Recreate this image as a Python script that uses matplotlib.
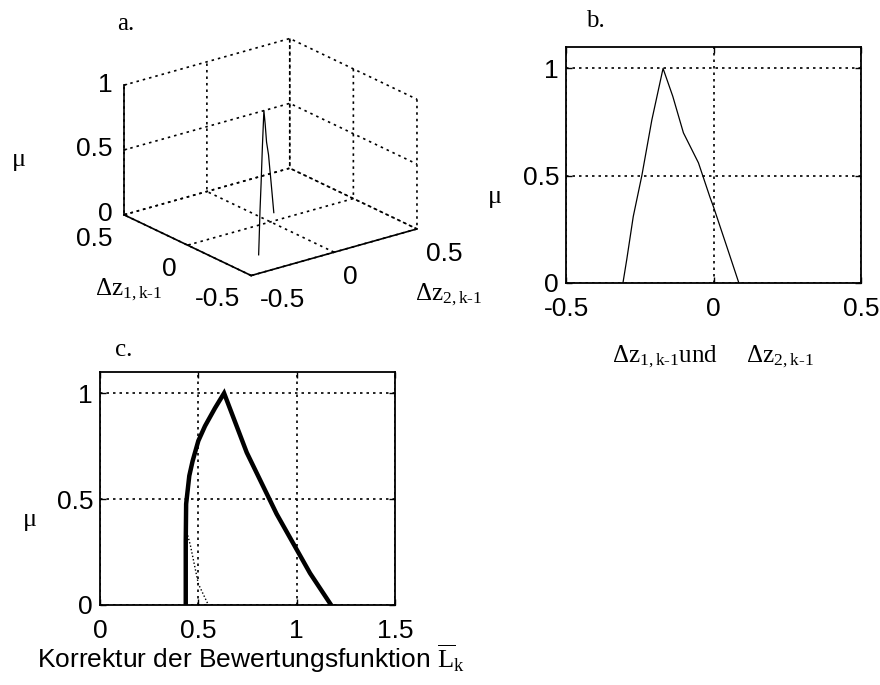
# Zugehoerigkeitsfunktionen: 3D-Ansicht (a), Schnitt (b) und Korrektur (c)

import numpy as np
import matplotlib
matplotlib.use('Agg')
import matplotlib.pyplot as plt

# --- Daten ---
# Zugehoerigkeit ueber Delta z_1,k-1 bzw. Delta z_2,k-1
dz = [-0.307, -0.294, -0.272, -0.243, -0.209, -0.171, -0.138, -0.102,
      -0.051, -0.012, 0.0, 0.045, 0.086]
mu_dz = [0.0, 0.11, 0.31, 0.5, 0.76, 1.0, 0.87, 0.70,
         0.56, 0.40, 0.355, 0.17, 0.0]

# Korrektur der Bewertungsfunktion (dicke Linie)
korr = [0.436, 0.436, 0.438, 0.454, 0.471, 0.50, 0.534, 0.585, 0.631,
        0.746, 0.898, 1.068, 1.175]
mu_korr = [0.0, 0.30, 0.477, 0.61, 0.68, 0.775, 0.845, 0.93, 1.0,
           0.72, 0.43, 0.15, 0.0]

# gepunkteter Ast
korr_dot = [0.437, 0.46, 0.50, 0.551]
mu_dot = [0.36, 0.28, 0.10, 0.0]

ticks_dz = [-0.5, 0, 0.5]
ticks_mu = [0, 0.5, 1]
ticks_korr = [0, 0.5, 1, 1.5]

# --- Stil ---
grid_ls = (0, (1.5, 2.4))
plt.rcParams['font.family'] = ['Liberation Sans', 'DejaVu Sans']
plt.rcParams['mathtext.fontset'] = 'custom'
plt.rcParams['mathtext.rm'] = 'Liberation Serif'
plt.rcParams['mathtext.it'] = 'Liberation Serif:italic'
plt.rcParams['grid.color'] = 'black'
plt.rcParams['grid.linestyle'] = grid_ls
plt.rcParams['grid.linewidth'] = 1.2

W, H = 880, 685
fig = plt.figure(figsize=(W / 100, H / 100), dpi=100)


def px(x, y):
    # Pixelposition -> Figurenkoordinaten
    return x / W, 1 - y / H


tick_fs = 19
serif = 'Liberation Serif'

# --- a. 3D-Ansicht ---
ax3 = fig.add_axes([0.080, 0.533, 0.445, 0.463], projection='3d')
ax3.set_proj_type('ortho')
ax3.view_init(elev=21.5, azim=-127.5)
ax3.set_box_aspect((1, 1, 0.667))
ax3.plot(dz, dz, mu_dz, color='black', lw=0.9)
ax3.set_xlim(-0.5, 0.5)
ax3.set_ylim(-0.5, 0.5)
ax3.set_zlim(0, 1)
ax3.set_xticks(ticks_dz)
ax3.set_yticks(ticks_dz)
ax3.set_zticks(ticks_mu)
ax3.set_xticklabels(['-0.5', '0', '0.5'])
ax3.set_yticklabels(['-0.5', '0', '0.5'])
ax3.set_zticklabels(['0', '0.5', '1'])
for axis in (ax3.xaxis, ax3.yaxis, ax3.zaxis):
    axis.set_pane_color((1, 1, 1, 0))
    axis.pane.set_edgecolor('none')
    axis.line.set_color('black')
    axis.line.set_linewidth(1.2)
    axis._axinfo['grid'].update(color='black', linewidth=1.2,
                                linestyle=grid_ls)
    axis._axinfo['tick']['inward_factor'] = 0.0
    axis._axinfo['tick']['outward_factor'] = 0.2
ax3.tick_params(labelsize=tick_fs, pad=0)
ax3.tick_params(axis='z', pad=-3.5)
for lbl in ax3.get_yticklabels():
    lbl.set_ha('right')
for lbl in ax3.get_xticklabels():
    lbl.set_ha('left')
for lbl in ax3.get_zticklabels():
    lbl.set_ha('right')
    lbl.set_va('center')

# --- b. Schnitt ---
axb = fig.add_axes([566 / W, 1 - 283 / H, 295 / W, 236 / H])
axb.plot(dz, mu_dz, color='black', lw=0.9)
axb.set_xlim(-0.5, 0.5)
axb.set_ylim(0, 1.1)
axb.set_xticks(ticks_dz)
axb.set_xticklabels(['-0.5', '0', '0.5'])
axb.set_yticks(ticks_mu)
axb.set_yticklabels(['0', '0.5', '1'])

# --- c. Korrektur ---
axc = fig.add_axes([100 / W, 1 - 605 / H, 295 / W, 233 / H])
axc.plot(korr_dot, mu_dot, color='black', lw=1.0, ls=(0, (1, 1.5)))
axc.plot(korr, mu_korr, color='black', lw=3.2, solid_joinstyle='miter')
axc.set_xlim(0, 1.5)
axc.set_ylim(0, 1.1)
axc.set_xticks(ticks_korr)
axc.set_xticklabels(['0', '0.5', '1', '1.5'])
axc.set_yticks(ticks_mu)
axc.set_yticklabels(['0', '0.5', '1'])

for ax in (axb, axc):
    ax.grid(True)
    ax.tick_params(direction='in', length=4, width=1, labelsize=tick_fs,
                   top=True, right=True)
    ax.tick_params(axis='x', pad=10)
    ax.tick_params(axis='y', pad=5)
    for s in ax.spines.values():
        s.set_linewidth(1.3)

# --- Beschriftungen ---
fig.text(*px(126, 24), 'a.', family=serif, fontsize=18, ha='center', va='center')
fig.text(*px(595, 21), 'b.', family=serif, fontsize=18, ha='center', va='center')
fig.text(*px(124, 350), 'c.', family=serif, fontsize=18, ha='center', va='center')

fig.text(*px(19, 160), '\u03bc', family=serif, fontsize=19, ha='center', va='center')
fig.text(*px(495, 197), '\u03bc', family=serif, fontsize=19, ha='center', va='center')
fig.text(*px(30, 520), '\u03bc', family=serif, fontsize=19, ha='center', va='center')

fig.text(*px(95, 295), r'$\mathrm{\Delta z}_{\mathrm{1,k\text{-}1}}$',
         fontsize=18, ha='left', va='baseline')
fig.text(*px(415, 300), r'$\mathrm{\Delta z}_{\mathrm{2,k\text{-}1}}$',
         fontsize=18, ha='left', va='baseline')
fig.text(*px(612, 362),
         r'$\mathrm{\Delta z}_{\mathrm{1,k\text{-}1}}\mathrm{und}\quad\ \ \mathrm{\Delta z}_{\mathrm{2,k\text{-}1}}$',
         fontsize=18, ha='left', va='baseline')
fig.text(*px(37, 668),
         r'Korrektur der Bewertungsfunktion $\overline{\mathrm{L}}_{\mathrm{k}}$',
         fontsize=19, ha='left', va='baseline')

plt.savefig('out.png', dpi=100)
